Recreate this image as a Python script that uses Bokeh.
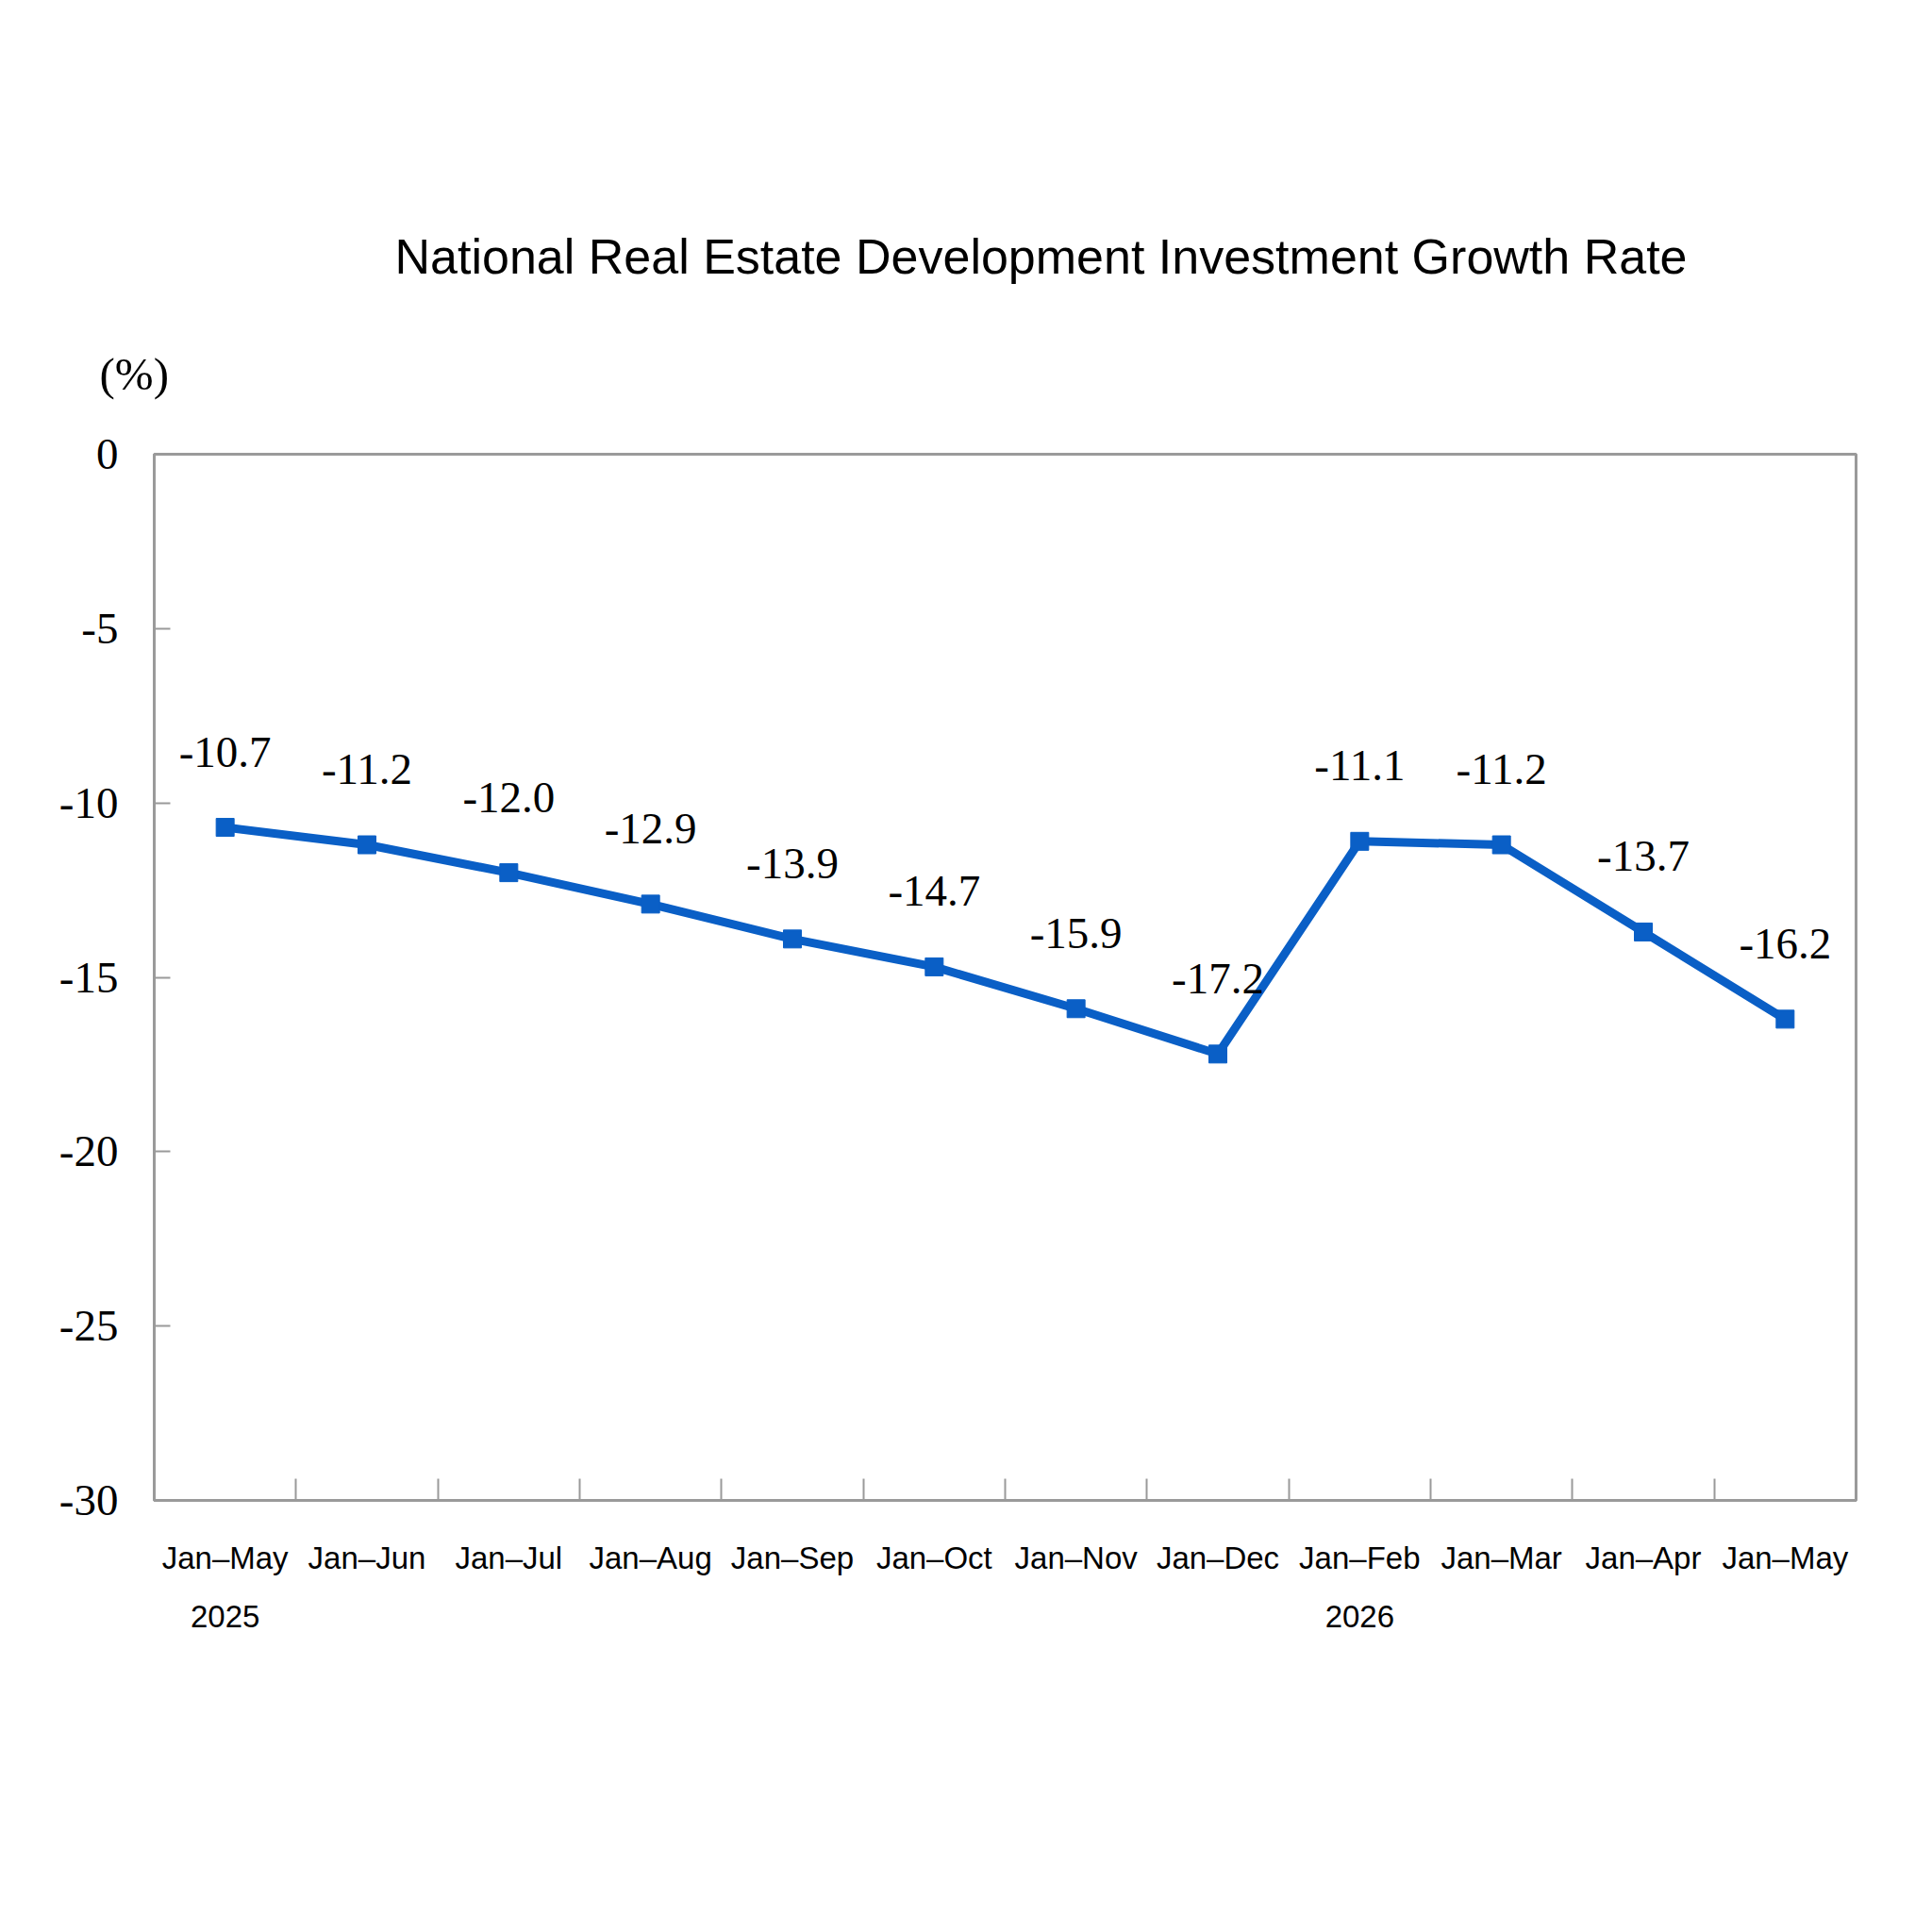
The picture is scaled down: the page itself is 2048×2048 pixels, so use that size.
from bokeh.plotting import figure
from bokeh.models import Range1d, FixedTicker, Title, ColumnDataSource
from bokeh.core.properties import value
from bokeh.embed import file_html
from bokeh.resources import INLINE

# Cumulative year-to-date periods and growth rates (%)
periods = ["Jan–May\n2025", "Jan–Jun", "Jan–Jul", "Jan–Aug", "Jan–Sep", "Jan–Oct",
           "Jan–Nov", "Jan–Dec", "Jan–Feb\n2026", "Jan–Mar", "Jan–Apr", "Jan–May"]
growth = [-10.7, -11.2, -12.0, -12.9, -13.9, -14.7, -15.9, -17.2, -11.1, -11.2, -13.7, -16.2]
y_ticks = [0, -5, -10, -15, -20, -25, -30]
title_text = "National Real Estate Development Investment Growth Rate"
unit_text = "(%)"

BLUE = "#0a5fc6"
GREY = "#9a9a9a"
SERIF = "Liberation Serif"
SANS = "Liberation Sans"

xs = list(range(len(periods)))
src = ColumnDataSource(dict(x=xs, y=growth, lbl=[f"{v:.1f}" for v in growth]))

p = figure(width=2048, height=2048, output_backend="svg", toolbar_location=None,
           x_range=Range1d(-0.5, len(periods) - 0.5), y_range=Range1d(-30, 0),
           min_border_left=163, min_border_right=81, min_border_top=481,
           min_border_bottom=458)
p.title.visible = False
p.background_fill_color = "white"
p.border_fill_color = "white"
p.outline_line_color = GREY
p.outline_line_width = 3
p.xgrid.visible = False
p.ygrid.visible = False

# y axis: serif labels with plain hyphens, short inward ticks
p.yaxis.ticker = FixedTicker(ticks=y_ticks)
p.yaxis.major_label_overrides = {t: str(t) for t in y_ticks}
p.yaxis.axis_line_color = GREY
p.yaxis.axis_line_width = 3
p.yaxis.major_tick_in = 17
p.yaxis.major_tick_out = 0
p.yaxis.major_tick_line_color = GREY
p.yaxis.major_tick_line_width = 2
p.yaxis.minor_tick_line_color = None
p.yaxis.major_label_text_font = SERIF
p.yaxis.major_label_text_font_size = "47px"
p.yaxis.major_label_text_color = "black"
p.yaxis.major_label_standoff = 38

# x axis: labels at category centres, tick marks on the boundaries
p.xaxis.ticker = FixedTicker(ticks=xs, minor_ticks=[i + 0.5 for i in xs[:-1]])
p.xaxis.major_label_overrides = {i: s for i, s in zip(xs, periods)}
p.xaxis.axis_line_color = GREY
p.xaxis.axis_line_width = 3
p.xaxis.major_tick_line_color = None
p.xaxis.minor_tick_in = 23
p.xaxis.minor_tick_out = 0
p.xaxis.minor_tick_line_color = GREY
p.xaxis.minor_tick_line_width = 2
p.xaxis.major_label_text_font = SANS
p.xaxis.major_label_text_font_size = "33px"
p.xaxis.major_label_text_color = "black"
p.xaxis.major_label_text_line_height = 1.7
p.xaxis.major_label_standoff = 36

p.line("x", "y", source=src, line_color=BLUE, line_width=9)
p.scatter("x", "y", source=src, marker="square", size=19, fill_color=BLUE, line_color=BLUE)
p.text("x", "y", text="lbl", source=src, text_font=value(SERIF), text_font_size="47px",
       text_align="center", text_baseline="alphabetic", y_offset=-80, text_color="black")

# unit label sits nearest the frame, main title above it
p.add_layout(Title(text=unit_text, align="left", offset=-58, standoff=116,
                   text_font=SERIF, text_font_size="49px", text_font_style="normal",
                   text_color="black"), "above")
p.add_layout(Title(text=title_text, align="left", offset=255, standoff=16,
                   text_font=SANS, text_font_size="52px", text_font_style="normal",
                   text_color="black"), "above")

open("out.html", "w").write(file_html(p, INLINE))
